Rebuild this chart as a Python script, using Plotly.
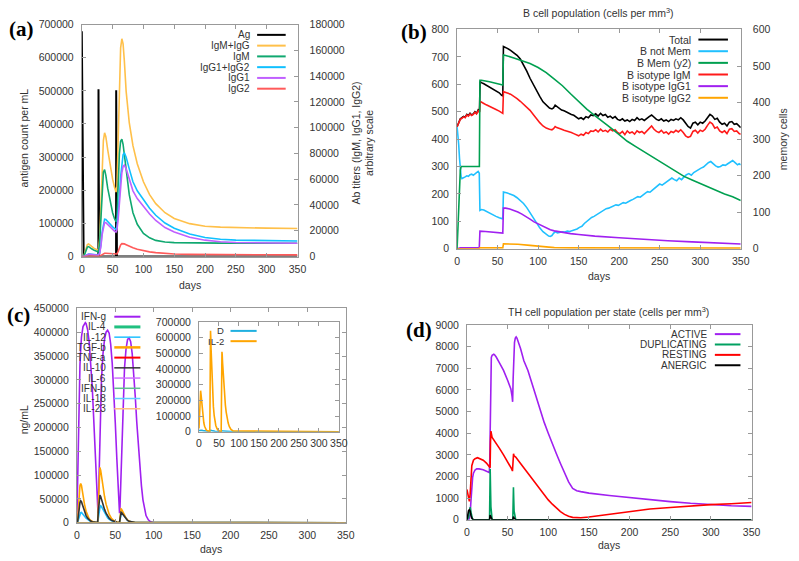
import plotly.graph_objects as go

W, H = 799, 561

# ---------------- Panel (a) data ----------------
a_ag_days = [0, 0.6, 1.6, 3, 26.9, 27.1, 27.6, 28.2, 55.6, 55.8, 56.3, 57, 350]
a_ag_vals = [680000, 480000, 120000, 0, 0, 505000, 220000, 0, 0, 502000, 200000, 0, 0]

a_days = [0, 3, 5, 7, 9, 11, 13, 16, 20, 24, 27, 29, 31, 33, 35, 37, 39, 42, 46, 50, 53, 55.5,
          57, 59, 61, 63, 65, 67, 69, 72, 77, 83, 90, 100, 110, 120, 135, 150, 175, 200, 225, 250, 300, 350]
a_igm_igg = [0, 0, 3000, 7000, 9300, 9800, 9200, 7800, 6300, 5300, 4800, 14000, 42000, 72000, 90000, 96000,
             93000, 83000, 70000, 60000, 54000, 50000, 54000, 90000, 135000, 162000, 169000, 165000, 152000,
             128000, 104000, 86000, 72000, 58000, 48000, 41000, 34000, 29500, 25500, 23500, 22800, 22400, 22000, 21800]
a_igm = [0, 0, 2200, 5500, 7300, 7700, 7200, 6000, 4800, 4000, 3600, 11000, 33000, 56000, 65500, 67500,
         63000, 53000, 42000, 34000, 29500, 27000, 30000, 55000, 80000, 89500, 91000, 87000, 79000,
         65000, 48000, 34000, 25000, 18000, 14500, 12500, 11300, 10800, 10500, 10400, 10400, 10350, 10300, 10300]
a_igg12 = [0, 0, 300, 1000, 1700, 2000, 2000, 1800, 1600, 1400, 1200, 3000, 9000, 19000, 26000, 29000,
           28800, 27000, 25000, 23000, 21800, 21000, 23000, 33000, 47000, 62000, 73000, 79000, 80500,
           77000, 68000, 58000, 51000, 44000, 37500, 32000, 26000, 22000, 17500, 14800, 13400, 12700, 12300, 12100]
a_igg1 = [0, 0, 250, 900, 1500, 1800, 1800, 1600, 1400, 1200, 1000, 2500, 8000, 17000, 23500, 26500,
          26300, 24800, 23000, 21000, 19800, 19000, 20500, 29000, 41000, 55000, 65000, 70000, 71000,
          68000, 60000, 51000, 45000, 39000, 33000, 28000, 22500, 19000, 15000, 12700, 11500, 10900, 10500, 10300]
a_igg2 = [0, 0, 50, 150, 250, 300, 300, 280, 250, 220, 200, 400, 900, 1600, 2200, 2500,
          2500, 2400, 2200, 2000, 1900, 1800, 2000, 4000, 7000, 9000, 10000, 10100, 9800,
          9200, 8000, 6800, 5600, 4400, 3600, 3000, 2400, 2000, 1700, 1550, 1450, 1400, 1330, 1300]

# ---------------- Panel (b) data ----------------
b_days = [0, 2, 4, 6, 8, 10, 12, 14, 16, 18, 20, 22, 24, 26, 27.6, 28.4, 30, 33, 36, 40, 44, 48, 52, 55, 56.4,
          57.2, 59, 62, 66, 70, 74, 78, 82, 86, 90, 94, 98, 102, 106, 110, 114, 117, 119, 121, 123, 126, 129,
          132, 135, 138, 141, 144, 147, 150, 153, 156, 159, 162, 165, 168, 171, 174, 177, 180, 183, 186, 189,
          192, 195, 198, 201, 204, 207, 210, 213, 216, 219, 222, 225, 228, 231, 234, 237, 240, 243, 246, 249,
          252, 255, 258, 261, 264, 267, 270, 273, 276, 279, 282, 285, 288, 291, 294, 297, 300, 303, 306, 309,
          312, 315, 318, 321, 324, 327, 330, 333, 336, 339, 342, 345, 348, 350]
b_total = [445, 460, 474, 478, 483, 480, 490, 486, 494, 488, 492, 500, 494, 506, 500, 610, 606, 602, 597, 590,
           584, 577, 569, 560, 558, 738, 736, 731, 724, 716, 706, 692, 672, 648, 622, 598, 576, 556, 536, 524,
           513, 510, 514, 524, 519, 514, 506, 503, 498, 494, 490, 487, 482, 474, 478, 472, 482, 478, 488, 486,
           492, 484, 494, 486, 490, 480, 484, 476, 482, 472, 468, 474, 466, 470, 464, 472, 468, 478, 470, 474,
           468, 476, 482, 488, 480, 472, 468, 474, 466, 470, 464, 472, 468, 474, 470, 478, 470, 456, 446, 440,
           458, 462, 452, 462, 458, 466, 480, 490, 484, 472, 476, 462, 454, 458, 448, 462, 464, 454, 456, 445, 442]
b_igm = [445, 458, 472, 476, 481, 478, 488, 484, 492, 486, 490, 498, 492, 503, 498, 538, 536, 530, 525, 520,
         514, 508, 502, 496, 494, 573, 572, 568, 564, 557, 548, 538, 528, 518, 505, 490, 474, 460, 448, 440,
         436, 434, 438, 446, 442, 440, 436, 432, 430, 428, 424, 420, 416, 412, 418, 414, 424, 420, 430, 428,
         434, 426, 436, 428, 432, 426, 436, 430, 434, 424, 420, 428, 416, 430, 422, 426, 418, 430, 424, 428,
         420, 430, 440, 448, 436, 428, 424, 432, 422, 426, 418, 428, 424, 432, 426, 434, 424, 412, 406, 410,
         428, 432, 422, 432, 428, 436, 450, 462, 456, 440, 444, 430, 424, 430, 420, 436, 438, 428, 430, 420, 418]

b_notmem_days = [0, 1, 2, 3, 4, 5, 6, 8, 10, 12, 14, 16, 18, 20, 22, 24, 26, 27.4, 28.2, 30, 33, 36, 40, 44, 48,
                 52, 55, 56.4, 57.2, 59, 62, 66, 70, 74, 78, 82, 86, 90, 94, 98, 102, 106, 110, 113, 115, 117,
                 119, 121, 124, 127, 130, 133, 136, 139, 142, 145, 148, 151, 154, 157, 160, 163, 166, 169, 172,
                 175, 178, 181, 184, 187, 190, 193, 196, 199, 202, 205, 208, 211, 214, 217, 220, 223, 226, 229,
                 232, 235, 238, 241, 244, 247, 250, 253, 256, 259, 262, 265, 268, 271, 274, 277, 280, 283, 286,
                 289, 292, 295, 298, 301, 304, 307, 310, 313, 316, 319, 322, 325, 328, 331, 334, 337, 340, 343,
                 346, 348, 350]
b_notmem = [445, 420, 380, 330, 285, 262, 256, 258, 262, 266, 264, 270, 272, 268, 275, 278, 282, 275, 140, 143,
            141, 136, 130, 124, 118, 113, 110, 109, 207, 206, 203, 199, 194, 186, 176, 165, 150, 132, 112, 92,
            76, 62, 52, 46, 45, 48, 56, 62, 58, 60, 62, 61, 64, 63, 66, 70, 72, 78, 82, 92, 100, 108, 114, 118,
            124, 130, 136, 140, 146, 148, 152, 155, 160, 158, 164, 168, 166, 172, 176, 180, 186, 190, 188, 196,
            202, 208, 206, 214, 222, 230, 236, 232, 238, 244, 250, 258, 252, 248, 258, 252, 262, 270, 274, 268,
            278, 284, 290, 294, 298, 306, 314, 318, 308, 302, 298, 300, 306, 304, 310, 316, 322, 314, 306, 310, 306]

b_mem_days = [0, 1, 2, 3, 4, 5, 27.5, 28.2, 30, 40, 50, 55, 56.4, 57.2, 60, 70, 80, 90, 100, 110, 120, 125, 130,
              140, 150, 160, 170, 180, 190, 200, 210, 220, 230, 240, 250, 260, 270, 280, 290, 300, 310, 320,
              330, 340, 350]
b_mem = [0, 60, 130, 185, 215, 225, 225, 461, 461, 457, 451, 449, 448, 530, 529, 522, 515, 507, 496, 482, 464,
         455, 446, 424, 402, 382, 364, 348, 330, 312, 294, 280, 266, 253, 240, 226, 212, 198, 188, 178, 168,
         160, 150, 142, 132]

b_igg1_days = [0, 4, 27.4, 28.2, 35, 45, 55, 56.4, 57.2, 60, 65, 70, 75, 80, 85, 90, 95, 100, 105, 110, 115, 120,
               130, 140, 150, 170, 200, 230, 260, 290, 320, 350]
b_igg1 = [0, 3, 4, 64, 63, 61, 58, 57, 148, 148, 145, 140, 134, 126, 118, 108, 98, 90, 82, 75, 69, 65,
          59, 55, 52, 46, 40, 34, 29, 25, 21, 17]

b_igg2_days = [0, 27.4, 28.2, 55, 56.4, 57.2, 65, 75, 90, 100, 110, 120, 140, 200, 350]
b_igg2 = [0, 0, 3, 3, 3, 18, 18, 16, 12, 9, 6, 4, 3, 2, 2]

# ---------------- Panel (c) data ----------------
c_ifng_days = [0, 1, 2, 3, 4, 5, 6, 8, 10, 11, 12, 14, 16, 18, 20, 22, 24, 26, 27, 27.5, 28, 29, 30, 31, 32, 34,
               36, 38, 40, 42, 44, 46, 48, 50, 52, 54, 55.5, 56, 57, 58, 59, 60, 62, 64, 66, 68, 70, 72, 74, 76,
               78, 80, 82, 84, 86, 88, 90, 93, 96, 100, 350]
c_ifng = [5000, 100000, 200000, 275000, 330000, 365000, 390000, 412000, 419000, 420000, 418000, 405000, 380000,
          340000, 285000, 215000, 140000, 60000, 25000, 20000, 40000, 120000, 200000, 260000, 300000, 355000,
          385000, 400000, 404000, 398000, 375000, 335000, 280000, 210000, 135000, 55000, 20000, 25000, 80000,
          150000, 210000, 260000, 325000, 365000, 385000, 388000, 380000, 355000, 315000, 265000, 210000,
          160000, 115000, 78000, 48000, 28000, 15000, 6000, 2000, 0, 0]

c_days = [0, 1, 2, 3, 4, 5, 6, 7, 8, 10, 12, 14, 16, 18, 20, 22, 26, 27, 28, 29, 30, 31, 32, 34, 36, 38, 40, 42,
          45, 48, 52, 55.5, 56, 57, 57.5, 58, 59, 60, 62, 64, 66, 68, 72, 76, 350]
c_tgfb = [0, 5000, 30000, 60000, 78000, 82000, 78000, 68000, 57000, 38000, 24000, 14000, 8000, 4500, 2500, 1200,
          300, 200, 40000, 90000, 116000, 110000, 98000, 75000, 55000, 39000, 27000, 18000, 9000, 4500, 1500,
          500, 8000, 25000, 29000, 28500, 26000, 22000, 15000, 9500, 6000, 3500, 1200, 300, 0]
c_il10 = [0, 3000, 15000, 32000, 42000, 46000, 44000, 39000, 33000, 23000, 15000, 9500, 6000, 3500, 2000, 1000,
          200, 100, 25000, 50000, 58000, 55000, 49000, 38000, 28000, 20000, 14000, 9500, 5000, 2500, 800,
          300, 8000, 20000, 22000, 21500, 19500, 17000, 11500, 7500, 4800, 3000, 1000, 300, 0]
c_il12 = [0, 1000, 6000, 13000, 18500, 21000, 21500, 20000, 18000, 13500, 9500, 6500, 4200, 2600, 1500, 800,
          150, 100, 10000, 25000, 32000, 35500, 34000, 28000, 21000, 15000, 10500, 7000, 3800, 2000, 700,
          300, 5000, 15000, 19000, 20500, 20000, 18000, 12500, 8000, 5000, 3000, 1000, 300, 0]
c_flat_days = [0, 350]
c_flat = [0, 0]

# inset
i_d_days = [0, 3, 6, 10, 20, 27, 28, 29, 32, 40, 55, 56, 57, 60, 70, 80, 90, 350]
i_d = [8000, 10000, 9000, 7000, 3000, 1500, 6000, 9000, 7000, 3000, 1000, 3000, 5000, 4500, 2000, 500, 0, 0]
i_il2_days = [0, 1, 2, 3, 4, 5, 6, 7, 8, 10, 12, 14, 16, 18, 20, 24, 27, 27.6, 28.2, 28.8, 29.5, 30, 31, 32, 34,
              36, 38, 40, 42, 45, 48, 52, 55.5, 56.2, 56.8, 57.4, 58, 59, 60, 62, 64, 66, 68, 70, 73, 76, 80,
              85, 350]
i_il2 = [20000, 120000, 220000, 258000, 262000, 240000, 205000, 170000, 138000, 90000, 57000, 35000, 21000,
         12000, 7000, 2000, 800, 200000, 600000, 645000, 600000, 540000, 450000, 370000, 245000, 160000,
         102000, 65000, 40000, 20000, 9000, 3000, 1000, 200000, 480000, 510000, 495000, 440000, 390000,
         300000, 228000, 170000, 125000, 92000, 55000, 32000, 15000, 5000, 0]

# ---------------- Panel (d) data ----------------
d_act_days = [0, 2, 3, 4, 5, 6, 7, 8, 10, 12, 15, 20, 25, 27.5, 28, 28.5, 29, 29.5, 30, 31, 33, 34, 36, 40, 45,
              50, 54, 55.5, 56.2, 56.8, 57.5, 58.5, 59.5, 60.5, 61.5, 63, 66, 70, 75, 80, 85, 90, 95, 100, 105,
              110, 115, 120, 125, 130, 135, 140, 150, 175, 200, 225, 250, 275, 300, 325, 350]
d_active = [0, 0, 50, 300, 900, 1600, 1950, 2150, 2300, 2350, 2350, 2310, 2240, 2180, 2600, 4500, 6500, 7300,
            7500, 7600, 7650, 7620, 7520, 7250, 6900, 6450, 6050, 5700, 5450, 6500, 7700, 8200, 8400, 8450,
            8400, 8250, 7900, 7350, 6900, 6300, 5700, 5050, 4500, 4000, 3500, 3050, 2600, 2150, 1750, 1450,
            1340, 1300, 1230, 1120, 1020, 920, 840, 760, 700, 650, 620]
d_rest_days = [0, 1, 2, 3, 4, 5, 6, 8, 10, 13, 16, 20, 24, 27, 28.5, 29, 29.5, 31, 35, 40, 45, 50, 55, 56, 56.7,
               57.3, 58, 60, 65, 70, 75, 80, 85, 90, 95, 100, 105, 110, 115, 120, 125, 130, 135, 140, 150,
               175, 200, 225, 250, 275, 300, 325, 350]
d_resting = [1400, 1150, 900, 850, 1200, 2000, 2500, 2750, 2820, 2870, 2830, 2750, 2620, 2500, 2400, 3600,
             4100, 3800, 3600, 3300, 3000, 2700, 2350, 2250, 2800, 3050, 2950, 2900, 2650, 2400, 2150, 1900,
             1650, 1400, 1150, 920, 720, 540, 380, 250, 160, 110, 90, 95, 130, 260, 400, 500, 570, 640, 700,
             740, 800]
d_dup_days = [0, 2, 3, 4, 5, 6, 7, 27.8, 28.2, 28.6, 29, 29.5, 30, 31, 56.4, 56.8, 57.2, 57.6, 58, 59, 60, 350]
d_dup = [0, 100, 400, 580, 350, 100, 0, 0, 1200, 2350, 1500, 600, 200, 0, 0, 800, 1500, 900, 400, 100, 0, 0]
d_anerg_days = [0, 1, 2, 3, 4, 5, 6, 8, 27.8, 28.5, 29.5, 31, 56.5, 57.2, 58, 60, 350]
d_anerg = [0, 250, 420, 460, 400, 200, 80, 0, 0, 220, 120, 0, 0, 150, 80, 0, 0]

# ---------------- helpers ----------------
def fx(px):
    return px / W


def fy(py):
    return 1 - py / H


FONT = "Liberation Sans, Arial, sans-serif"
TXT = "#333333"
AX = "#999999"
LW = 1.6

boxA = (80, 19, 299, 256)
boxB = (461, 24, 749, 248)
boxC = (75, 309, 348, 528)
boxI = (199, 323, 341, 435)
boxD = (471, 326, 760, 525)


def xd(b):
    return [fx(b[0]), fx(b[2])]


def yd(b):
    return [fy(b[3]), fy(b[1])]


common = dict(showline=True, linecolor=AX, linewidth=1, ticks="inside", ticklen=4, tickcolor=AX,
              showgrid=False, zeroline=False, tickformat="d",
              tickfont=dict(family=FONT, size=10.5, color=TXT))


def xax(box, anchor):
    return dict(common, domain=xd(box), range=[0, 350], dtick=50, tick0=0, anchor=anchor,
                mirror="ticks", ticklabelstandoff=3)


fig = go.Figure()


def add(x, y, color, xa, ya, width=LW):
    fig.add_trace(go.Scatter(x=x, y=y, mode="lines", line=dict(color=color, width=width),
                             xaxis=xa, yaxis=ya, showlegend=False, hoverinfo="skip"))


# panel a
add(a_ag_days, a_ag_vals, "#000000", "x", "y", 2)
add(a_days, a_igm_igg, "#ffc04a", "x", "y2")
add(a_days, a_igm, "#10a870", "x", "y2")
add(a_days, a_igg12, "#10c0ff", "x", "y2")
add(a_days, a_igg1, "#c060ff", "x", "y2")
add(a_days, a_igg2, "#ff5a5a", "x", "y2")

# panel b
add(b_days, b_total, "#000000", "x2", "y3")
add(b_notmem_days, b_notmem, "#20c0ff", "x2", "y3")
add(b_days, b_igm, "#ff1a1a", "x2", "y3")
add(b_igg1_days, b_igg1, "#a020f0", "x2", "y3")
add(b_igg2_days, b_igg2, "#ffa500", "x2", "y3")
add(b_mem_days, b_mem, "#00a050", "x2", "y4")

# panel c
add(c_ifng_days, c_ifng, "#a020f0", "x3", "y5")
add(c_flat_days, c_flat, "#00b070", "x3", "y5")
add(c_days, c_il12, "#20c0ff", "x3", "y5")
add(c_days, c_tgfb, "#ffa500", "x3", "y5")
add(c_flat_days, c_flat, "#ff0000", "x3", "y5")
add(c_days, c_il10, "#333333", "x3", "y5")
add(c_flat_days, c_flat, "#d070ff", "x3", "y5")
add(c_flat_days, c_flat, "#60c090", "x3", "y5")
add(c_flat_days, c_flat, "#60d0ff", "x3", "y5")
add(c_flat_days, c_flat, "#d09040", "x3", "y5")

# inset
add(i_d_days, i_d, "#20b0e0", "x4", "y6")
add(i_il2_days, i_il2, "#ffa500", "x4", "y6")

# panel d
add(d_act_days, d_active, "#a020f0", "x5", "y7")
add(d_dup_days, d_dup, "#00a060", "x5", "y7")
add(d_rest_days, d_resting, "#ff0000", "x5", "y7")
add(d_anerg_days, d_anerg, "#000000", "x5", "y7")

layout = dict(
    width=W, height=H, autosize=False, margin=dict(l=0, r=0, t=0, b=0),
    paper_bgcolor="white", plot_bgcolor="white", showlegend=False,
    xaxis=xax(boxA, "y"),
    yaxis=dict(common, domain=yd(boxA), range=[0, 700000], dtick=100000, anchor="x", mirror=False,
               ticklabelstandoff=5),
    yaxis2=dict(common, range=[0, 180000], dtick=20000, overlaying="y", side="right", anchor="x",
                ticklabelstandoff=9),
    xaxis2=xax(boxB, "y3"),
    yaxis3=dict(common, domain=yd(boxB), range=[0, 800], dtick=100, anchor="x2", mirror=False,
                ticklabelstandoff=5),
    yaxis4=dict(common, range=[0, 600], dtick=100, overlaying="y3", side="right", anchor="x2",
                ticklabelstandoff=9),
    xaxis3=xax(boxC, "y5"),
    yaxis5=dict(common, domain=yd(boxC), range=[0, 450000], dtick=50000, anchor="x3", mirror="ticks",
                ticklabelstandoff=5),
    xaxis4=dict(xax(boxI, "y6"), ticklabelstandoff=2),
    yaxis6=dict(common, domain=yd(boxI), range=[0, 700000], dtick=100000, anchor="x4", mirror="ticks",
                ticklabelstandoff=5),
    xaxis5=xax(boxD, "y7"),
    yaxis7=dict(common, domain=yd(boxD), range=[0, 9000], dtick=1000, anchor="x5", mirror="ticks",
                ticklabelstandoff=5),
)
fig.update_layout(**layout)

ann = []
shapes = []


def text(x, y, s, size=10.5, angle=0, xanchor="center", family=FONT, color=TXT):
    ann.append(dict(x=fx(x), y=fy(y), xref="paper", yref="paper", text=s, showarrow=False,
                    xanchor=xanchor, yanchor="middle", textangle=angle,
                    font=dict(family=family, size=size, color=color)))


def legend(xt, x0, x1, y0, dy, items, size=10):
    for i, (label, color, width) in enumerate(items):
        y = y0 + i * dy
        text(xt, y, label, xanchor="right", size=size)
        shapes.append(dict(type="line", xref="paper", yref="paper", x0=fx(x0), x1=fx(x1),
                           y0=fy(y), y1=fy(y), line=dict(color=color, width=width)))


# panel labels
for lbl, x, y in [("(a)", 4, 23), ("(b)", 402, 27), ("(c)", 2, 316), ("(d)", 407, 331)]:
    text(x, y, "<b>%s</b>" % lbl, size=21, xanchor="left", family="Liberation Serif, Times New Roman, serif",
         color="#000000")

# axis titles
text(21.7, 135, "antigen count per mL", angle=-90)
text(365, 140, "Ab titers (IgM, IgG1, IgG2)<br>arbitrary scale", angle=-90)
text(189.5, 285, "days")
text(605, 7, "B cell population (cells per mm<sup>3</sup>)")
text(605, 276, "days")
text(792, 136, "memory cells", angle=-90)
text(21.7, 423, "ng/mL", angle=-90)
text(211.5, 555, "days")
text(615, 312, "TH cell population per state (cells per mm<sup>3</sup>)")
text(615.5, 551, "days")

# legends
legend(253, 258, 287, 29.5, 11, [("Ag", "#000000", 2), ("IgM+IgG", "#ffc04a", 2), ("IgM", "#10a870", 2),
                                  ("IgG1+IgG2", "#10c0ff", 2), ("IgG1", "#c060ff", 2), ("IgG2", "#ff5a5a", 2)])
legend(700.7, 706, 736, 34.3, 11.9, [("Total", "#000000", 2), ("B not Mem", "#20c0ff", 2),
                                     ("B Mem (y2)", "#00a050", 2), ("B isotype IgM", "#ff1a1a", 2),
                                     ("B isotype IgG1", "#a020f0", 2), ("B isotype IgG2", "#ffa500", 2)],
       size=10.5)
legend(107, 113, 139.5, 317.5, 10.45, [("IFN-g", "#a020f0", 2), ("IL-4", "#20c080", 3), ("IL-12", "#20c0ff", 1.5),
                                        ("TGF-b", "#ffa500", 2.5), ("TNF-a", "#ff0000", 2),
                                        ("IL-10", "#333333", 1.5), ("IL-6", "#d070ff", 1.5),
                                        ("IFN-b", "#60c090", 1.5), ("IL-18", "#60d0ff", 1.5),
                                        ("IL-23", "#ffc080", 1.5)])
legend(226, 231, 257.5, 332, 10.5, [("D", "#20b0e0", 2), ("IL-2", "#ffa500", 2)], size=9.5)
legend(716.7, 722.7, 748.7, 335.3, 10.6, [("ACTIVE", "#a020f0", 2), ("DUPLICATING", "#00a060", 2),
                                          ("RESTING", "#ff0000", 2), ("ANERGIC", "#000000", 2)])

fig.update_layout(annotations=ann, shapes=shapes)
fig.write_html("out.html")
